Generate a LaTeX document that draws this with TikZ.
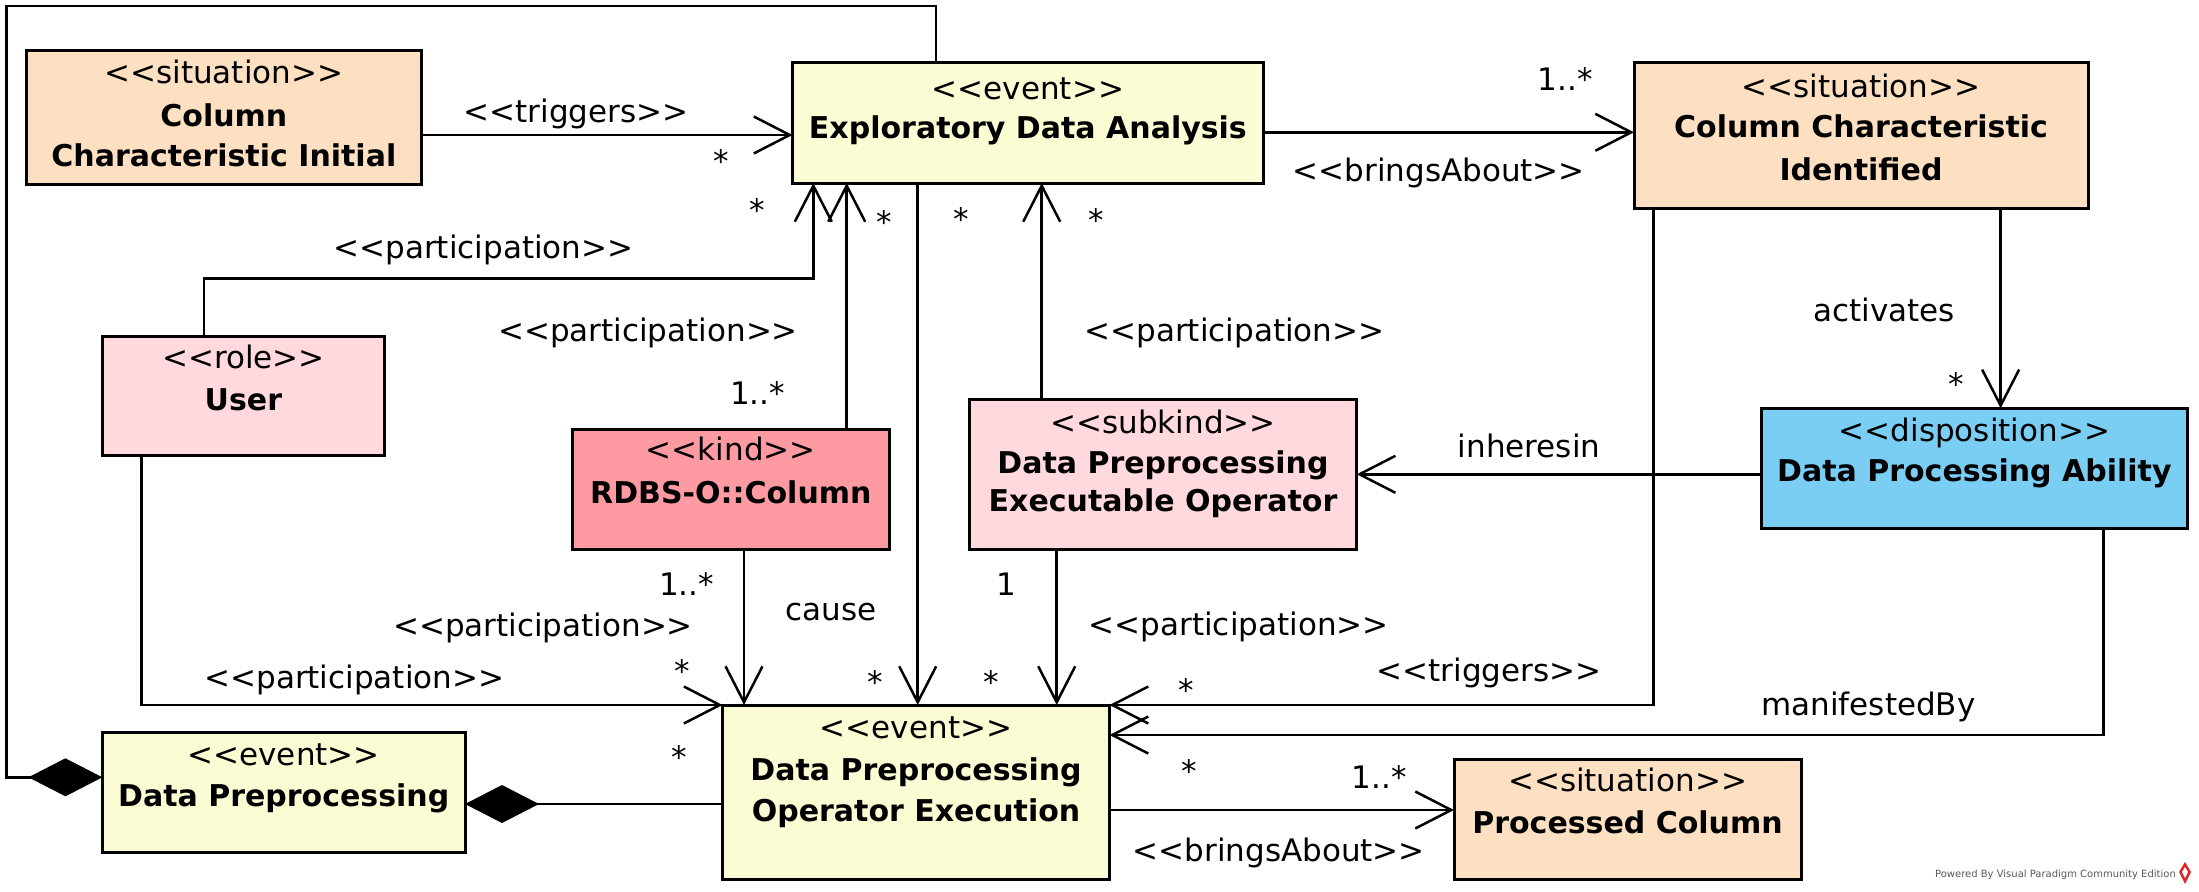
\documentclass[tikz,border=0pt]{standalone}
\usepackage{fontspec}
\newfontfamily\uf{DejaVu Sans}
\usetikzlibrary{arrows.meta,calc}
\definecolor{sitcol}{RGB}{252,224,193}
\definecolor{evtcol}{RGB}{251,251,212}
\definecolor{rolecol}{RGB}{255,217,221}
\definecolor{kindcol}{RGB}{254,154,162}
\definecolor{dispcol}{RGB}{122,206,244}
\definecolor{wmgray}{RGB}{90,90,90}
\definecolor{vpred}{RGB}{220,40,40}
\newcommand{\nfont}{\uf\fontsize{31}{37}\selectfont}
\newcommand{\bfont}{\uf\fontsize{30}{36}\selectfont\bfseries}
\newcommand{\wmfont}{\uf\fontsize{10}{12}\selectfont}
\newcommand{\ubx}[6]{\node[ubox, fill=#6, minimum width={#4-#2}, minimum height={#5-#3}] (#1) at (#2,#3) {};}
\begin{document}
\begin{tikzpicture}[x=1pt,y=-1pt,
  ubox/.style={draw, line width=3pt, outer sep=0pt, inner sep=0pt, anchor=north west},
  conn/.style={line width=2.5pt},
  opena/.style={-{Straight Barb[length=36pt,width=37pt]}},
  comp/.style={-{Diamond[length=74pt,width=38pt]}},
  lbl/.style={anchor=base, inner sep=0pt, font=\nfont},
  bl/.style={anchor=base, inner sep=0pt, font=\bfont},
]
\useasboundingbox[fill=white] (0,0) rectangle (2199,891);

% ---------- boxes ----------
\ubx{cci}{26.7}{51}{421}{184}{sitcol}
\ubx{eda}{792.5}{63}{1263.3}{183}{evtcol}
\ubx{ccid}{1634}{63}{2088}{208}{sitcol}
\ubx{user}{102.4}{336}{384.4}{455}{rolecol}
\ubx{col}{572.7}{429.3}{889}{549.3}{kindcol}
\ubx{sub}{969.3}{399.3}{1356.7}{549.3}{rolecol}
\ubx{disp}{1761}{408.3}{2187.7}{528.3}{dispcol}
\ubx{dp}{102.4}{732.3}{465}{852.7}{evtcol}
\ubx{dpoe}{722.6}{705}{1109.5}{879.3}{evtcol}
\ubx{pc}{1454}{759.3}{1801}{879.3}{sitcol}

% ---------- box texts ----------
\node[lbl] at ($(cci.north)+(0,32.3)$) {<<situation>>};
\node[bl]  at ($(cci.north)+(0,75.7)$) {Column};
\node[bl]  at ($(cci.north)+(0,115.7)$) {Characteristic Initial};

\node[lbl] at ($(eda.north)+(0,36)$) {<<event>>};
\node[bl]  at ($(eda.north)+(0,75.3)$) {Exploratory Data Analysis};

\node[lbl] at ($(ccid.north)+(0,34)$) {<<situation>>};
\node[bl]  at ($(ccid.north)+(0,74)$) {Column Characteristic};
\node[bl]  at ($(ccid.north)+(0,117)$) {Identified};

\node[lbl] at ($(user.north)+(0,32.3)$) {<<role>>};
\node[bl]  at ($(user.north)+(0,74)$) {User};

\node[lbl] at ($(col.north)+(0,31)$) {<<kind>>};
\node[bl]  at ($(col.north)+(0,74)$) {RDBS-O::Column};

\node[lbl] at ($(sub.north)+(0,34)$) {<<subkind>>};
\node[bl]  at ($(sub.north)+(0,74)$) {Data Preprocessing};
\node[bl]  at ($(sub.north)+(0,112.4)$) {Executable Operator};

\node[lbl] at ($(disp.north)+(0,33.4)$) {<<disposition>>};
\node[bl]  at ($(disp.north)+(0,73.4)$) {Data Processing Ability};

\node[lbl] at ($(dp.north)+(0,32.7)$) {<<event>>};
\node[bl]  at ($(dp.north)+(0,74.4)$) {Data Preprocessing};

\node[lbl] at ($(dpoe.north)+(0,33.3)$) {<<event>>};
\node[bl]  at ($(dpoe.north)+(0,75)$) {Data Preprocessing};
\node[bl]  at ($(dpoe.north)+(0,116.7)$) {Operator Execution};

\node[lbl] at ($(pc.north)+(0,32.4)$) {<<situation>>};
\node[bl]  at ($(pc.north)+(0,74)$) {Processed Column};

% ---------- connectors ----------
\draw[conn,opena] (cci.east |- 0,135) -- (eda.west |- 0,135);
\draw[conn,opena] (eda.east |- 0,132.3) -- (ccid.west |- 0,132.3);
\draw[conn,opena] (user.north -| 204,0) -- (204,278.3) -- (813.3,278.3) -- (eda.south -| 813.3,0);
\draw[conn,opena] (col.north -| 846.7,0) -- (eda.south -| 846.7,0);
\draw[conn,opena] (eda.south -| 917.7,0) -- (dpoe.north -| 917.7,0);
\draw[conn,opena] (sub.north -| 1041.7,0) -- (eda.south -| 1041.7,0);
\draw[conn,opena] (col.south -| 744,0) -- (dpoe.north -| 744,0);
\draw[conn,opena] (sub.south -| 1056.7,0) -- (dpoe.north -| 1056.7,0);
\draw[conn,opena] (user.south -| 141.7,0) -- (141.7,705) -- (dpoe.north west);
\draw[conn,opena] (ccid.south -| 1653.7,0) -- (1653.7,705) -- (dpoe.north east);
\draw[conn,opena] (disp.south -| 2103.5,0) -- (2103.5,735) -- (dpoe.east |- 0,735);
\draw[conn,opena] (disp.west |- 0,474.3) -- (sub.east |- 0,474.3);
\draw[conn,opena] (ccid.south -| 2000.6,0) -- (disp.north -| 2000.6,0);
\draw[conn,opena] (dpoe.east |- 0,810) -- (pc.west |- 0,810);
\draw[conn,comp] (dpoe.west |- 0,804) -- (dp.east |- 0,804);
\draw[conn,comp] (eda.north -| 936,0) -- (936,6) -- (6.3,6) -- (6.3,777.3) -- (dp.west |- 0,777.3);

% ---------- connector labels ----------
\node[lbl] at (576,122) {<<triggers>>};
\node[lbl] at (483.5,258) {<<participation>>};
\node[lbl] at (648,341) {<<participation>>};
\node[lbl] at (757.6,404) {1..*};
\node[lbl] at (1234.4,341) {<<participation>>};
\node[lbl] at (1565.3,90) {1..*};
\node[lbl] at (1438.8,181.7) {<<bringsAbout>>};
\node[lbl] at (1884.3,321.7) {activates};
\node[lbl] at (1529,457) {inheresin};
\node[lbl] at (686.7,595) {1..*};
\node[lbl] at (830.8,620) {cause};
\node[lbl] at (543,636) {<<participation>>};
\node[lbl] at (354.3,688) {<<participation>>};
\node[lbl] at (1006.7,595) {1};
\node[lbl] at (1238.7,635) {<<participation>>};
\node[lbl] at (1489,681.7) {<<triggers>>};
\node[lbl] at (1868.5,715) {manifestedBy};
\node[lbl] at (1379.3,788.3) {1..*};
\node[lbl] at (1278.8,861.7) {<<bringsAbout>>};

% multiplicity stars
\node[lbl] at (721.7,172) {*};
\node[lbl] at (757.3,221) {*};
\node[lbl] at (884.3,233.7) {*};
\node[lbl] at (961.7,230.3) {*};
\node[lbl] at (1096,231) {*};
\node[lbl] at (1956.5,395) {*};
\node[lbl] at (682.7,682) {*};
\node[lbl] at (875,693.7) {*};
\node[lbl] at (991,693.7) {*};
\node[lbl] at (1186.5,701) {*};
\node[lbl] at (1189,782) {*};
\node[lbl] at (679,768.7) {*};

% watermark
\node[anchor=base east, inner sep=0pt, font=\wmfont, text=wmgray] (wm) at (2176,877) {Powered By Visual Paradigm Community Edition};
\fill[vpred] (2185,862) -- (2191,872) -- (2185,884) -- (2179,872) -- cycle;
\fill[white] (2185,867) -- (2188,872) -- (2185,878) -- (2182,872) -- cycle;
\end{tikzpicture}
\end{document}
